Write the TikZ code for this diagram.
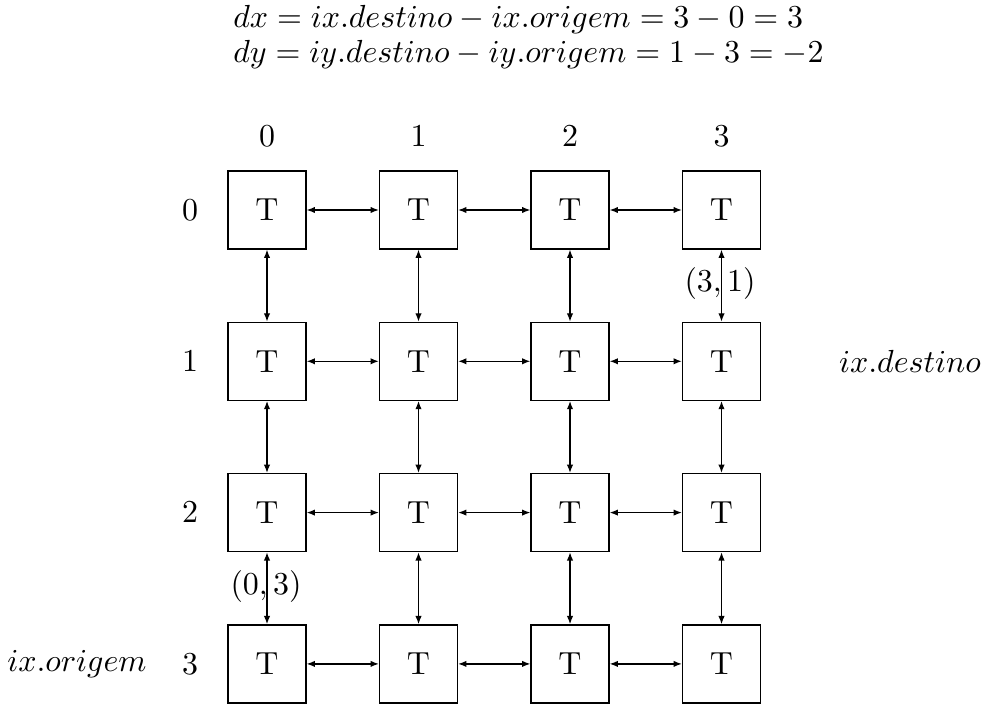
\documentclass[tikz,border=0pt]{standalone}
\usepackage{amsmath}
\usepackage{tikz}
\usetikzlibrary{arrows.meta, positioning}

\begin{document}
\begin{tikzpicture}[x=0.011cm, y=-0.011cm, >={Latex[length=2.6pt, width=2pt]},
  tile/.style={draw, minimum size=0.858cm, inner sep=0pt},
  link/.style={<->}]
  \useasboundingbox (0,0) rectangle (986,705);
  \node[anchor=base west] (eqx) at (222,28) {$dx = ix.destino - ix.origem = 3 - 0 = 3$};
  \node[anchor=base west] (eqy) at (222,63) {$dy = iy.destino - iy.origem = 1 - 3 = -2$};
  % grid of tiles, labels on top and left
  \foreach \c in {0,...,3} {
    \node (col\c) at (267+151.5*\c,136) {$\c$};
    \node (row\c) at (190,210+151.3*\c) {$\c$};
    \foreach \r in {0,...,3}
      \node[tile] (t\c\r) at (267+151.5*\c,210+151.3*\r) {T};
  }
  % links between neighbours
  \foreach \a in {0,...,3}
    \foreach \b in {0,1,2} {
      \pgfmathtruncatemacro\n{\b+1}
      \draw[link] (t\b\a) -- (t\n\a);
      \draw[link] (t\a\b) -- (t\a\n);
    }
  \node (dest) at (910,361) {$ix.destino$};
  \node (orig) at (77,664) {$ix.origem$};
  \node (lab31) at (720,284) {$(3,1)$};
  \node (lab03) at (266,587) {$(0,3)$};
\end{tikzpicture}
\end{document}
